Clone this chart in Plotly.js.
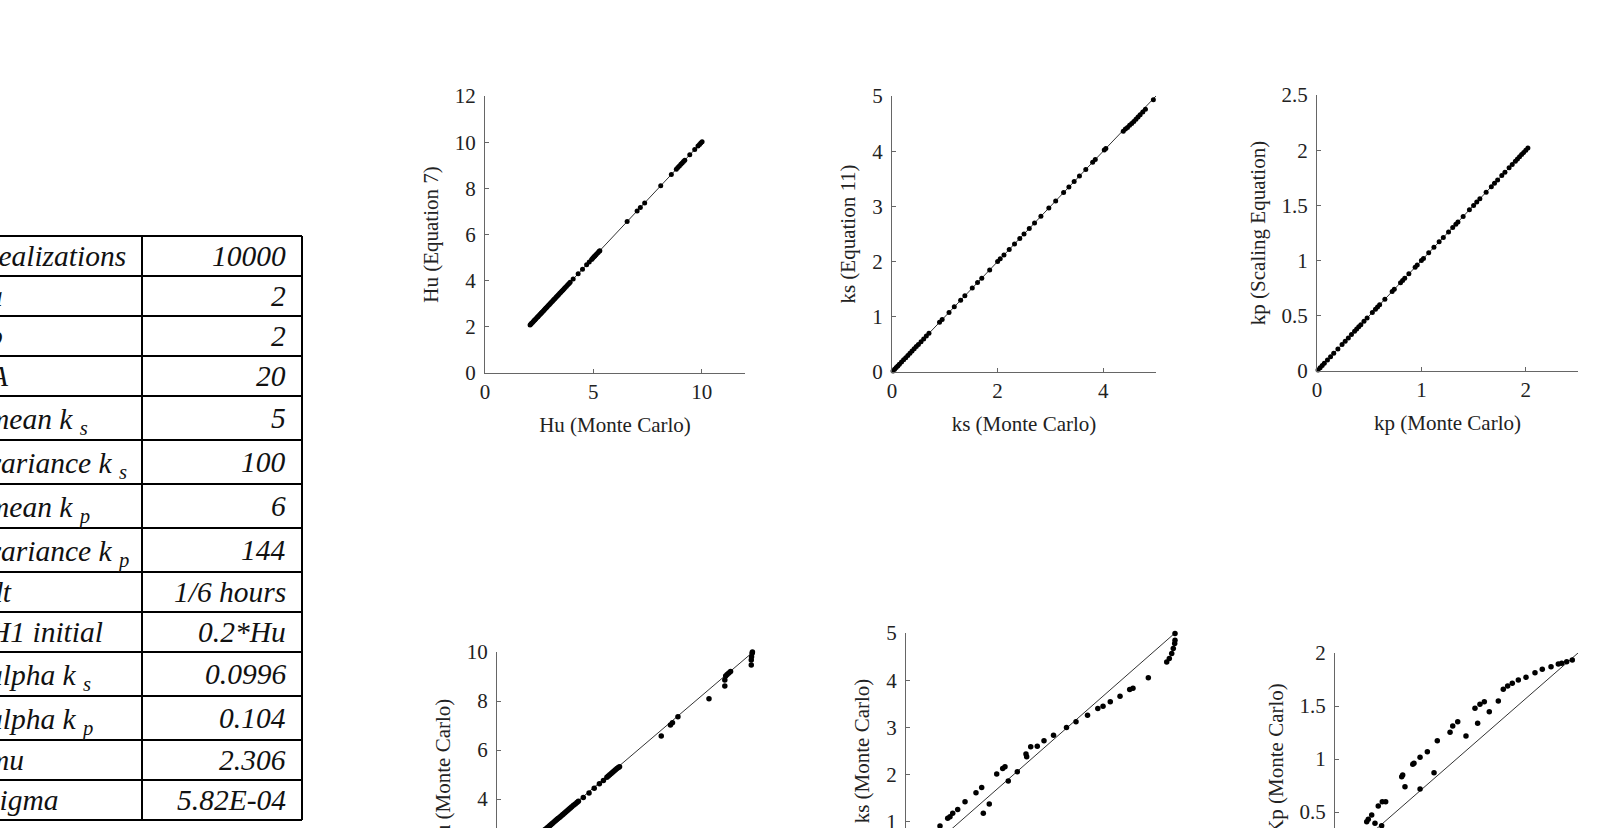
<!DOCTYPE html>
<html><head><meta charset="utf-8">
<script src="https://cdn.plot.ly/plotly-3.0.1.min.js"></script>
<style>
html,body{margin:0;padding:0;overflow:hidden;background:#fff;width:1600px;height:828px}
#chart{width:1600px;height:1000px}
</style>
</head><body><div id="chart"></div>
<script>
// ---------- table data ----------
const paramNames = ["realizations","a","b","A","mean k <sub>s</sub>","variance k <sub>s</sub>","mean k <sub>p</sub>","variance k <sub>p</sub>","dt","H1 initial","alpha k <sub>s</sub>","alpha k <sub>p</sub>","mu","sigma"];
const paramValues = ["10000","2","2","20","5","100","6","144","1/6 hours","0.2*Hu","0.0996","0.104","2.306","5.82E-04"];

// ---------- top-left: Hu (Monte Carlo) vs Hu (Equation 7) ----------
const huMC  = [2.08,2.12,2.15,2.2,2.24,2.28,2.31,2.35,2.4,2.44,2.47,2.52,2.56,2.6,2.63,2.68,2.72,2.76,2.8,2.84,2.88,2.93,2.97,3.01,3.05,3.1,3.14,3.18,3.22,3.27,3.31,3.36,3.4,3.45,3.5,3.55,3.6,3.65,3.7,3.76,3.82,3.88,3.93,4.07,4.3,4.5,4.69,4.81,4.92,4.97,5.02,5.07,5.12,5.17,5.22,5.27,5.3,6.56,7.02,7.17,7.37,8.11,8.6,8.83,8.9,8.97,9.04,9.1,9.16,9.22,9.45,9.68,9.83,9.9,9.96,10.02];
const huEq7 = [2.08,2.12,2.15,2.2,2.24,2.28,2.31,2.35,2.4,2.44,2.47,2.52,2.56,2.6,2.63,2.68,2.72,2.76,2.8,2.84,2.88,2.93,2.97,3.01,3.05,3.1,3.14,3.18,3.22,3.27,3.31,3.36,3.4,3.45,3.5,3.55,3.6,3.65,3.7,3.76,3.82,3.88,3.93,4.07,4.3,4.5,4.69,4.81,4.92,4.97,5.02,5.07,5.12,5.17,5.22,5.27,5.3,6.56,7.02,7.17,7.37,8.11,8.6,8.83,8.9,8.97,9.04,9.1,9.16,9.22,9.45,9.68,9.83,9.9,9.96,10.02];
const huLine = [2, 10];

// ---------- top-middle: ks ----------
const ksMC   = [0.02,0.05,0.08,0.11,0.14,0.18,0.22,0.26,0.3,0.34,0.38,0.42,0.46,0.5,0.55,0.6,0.65,0.7,0.9,0.95,1.08,1.18,1.3,1.38,1.52,1.62,1.7,1.85,2.0,2.05,2.12,2.22,2.32,2.42,2.5,2.6,2.7,2.82,2.97,3.1,3.25,3.35,3.45,3.55,3.67,3.8,3.85,4.02,4.05,4.38,4.42,4.46,4.5,4.54,4.58,4.62,4.66,4.7,4.75,4.8,4.95];
const ksEq11 = [0.02,0.05,0.08,0.11,0.14,0.18,0.22,0.26,0.3,0.34,0.38,0.42,0.46,0.5,0.55,0.6,0.65,0.7,0.9,0.95,1.08,1.18,1.3,1.38,1.52,1.62,1.7,1.85,2.0,2.05,2.12,2.22,2.32,2.42,2.5,2.6,2.7,2.82,2.97,3.1,3.25,3.35,3.45,3.55,3.67,3.8,3.85,4.02,4.05,4.36,4.4,4.43,4.47,4.5,4.54,4.58,4.62,4.66,4.71,4.76,4.93];
const ksLine = [0, 5];

// ---------- top-right: kp ----------
const kpMC   = [0.01,0.03,0.05,0.07,0.1,0.13,0.16,0.2,0.24,0.27,0.3,0.33,0.36,0.38,0.4,0.42,0.45,0.48,0.53,0.56,0.58,0.6,0.65,0.72,0.74,0.8,0.82,0.84,0.88,0.94,0.96,1.0,1.02,1.07,1.12,1.17,1.21,1.26,1.3,1.33,1.35,1.4,1.46,1.5,1.53,1.56,1.62,1.67,1.7,1.73,1.77,1.8,1.84,1.87,1.9,1.92,1.94,1.96,1.98,2.0,2.02];
const kpScal = [0.01,0.03,0.05,0.07,0.1,0.13,0.16,0.2,0.24,0.27,0.3,0.33,0.36,0.38,0.4,0.42,0.45,0.48,0.53,0.56,0.58,0.6,0.65,0.72,0.74,0.8,0.82,0.84,0.88,0.94,0.96,1.0,1.02,1.07,1.12,1.17,1.21,1.26,1.3,1.33,1.35,1.4,1.46,1.5,1.53,1.56,1.62,1.67,1.7,1.73,1.77,1.8,1.84,1.87,1.9,1.92,1.94,1.96,1.98,2.0,2.02];
const kpLine = [0, 2.02];

// ---------- bottom-left: Hu (Monte Carlo) ----------
const huB_x = [2.08,2.12,2.15,2.2,2.24,2.28,2.31,2.35,2.4,2.44,2.47,2.52,2.56,2.6,2.63,2.68,2.72,2.76,2.8,2.84,2.88,2.93,2.97,3.01,3.05,3.1,3.14,3.18,3.22,3.27,3.31,3.36,3.4,3.45,3.5,3.55,3.6,3.65,3.7,3.76,3.82,3.88,3.93,4.1,4.3,4.48,4.66,4.8,4.92,4.97,5.02,5.07,5.12,5.17,5.22,5.27,5.32,5.36,6.81,7.13,7.2,7.39,8.47,9.02,9.02,9.05,9.1,9.16,9.22,9.94,9.94,9.95,9.97,9.98];
const huB_y = [2.06,2.1,2.13,2.18,2.22,2.26,2.29,2.33,2.38,2.42,2.45,2.5,2.54,2.58,2.61,2.66,2.7,2.74,2.78,2.82,2.86,2.91,2.95,2.99,3.03,3.08,3.12,3.16,3.2,3.25,3.29,3.34,3.38,3.43,3.48,3.53,3.58,3.63,3.68,3.74,3.8,3.86,3.91,4.06,4.25,4.44,4.62,4.76,4.89,4.94,4.99,5.04,5.09,5.14,5.19,5.24,5.29,5.32,6.57,7.02,7.11,7.36,8.09,8.61,8.86,9.02,9.08,9.14,9.2,9.47,9.67,9.81,9.95,10.0];
const huBLine = [2, 10];
const huBTicks = [4, 6, 8, 10];

// ---------- bottom-middle: ks (Monte Carlo) ----------
const ksB_x = [0.45,0.55,0.632,0.775,0.818,0.868,0.961,1.097,1.301,1.407,1.437,1.548,1.686,1.797,1.84,1.901,2.069,2.23,2.243,2.318,2.44,2.565,2.742,2.983,3.16,3.374,3.565,3.662,3.797,3.978,4.158,4.219,4.504,4.846,4.894,4.939,4.968,4.994,5.0,5.0];
const ksB_y = [0.7,0.8,0.91,1.073,1.107,1.179,1.263,1.424,1.615,1.729,1.179,1.376,2.011,2.131,2.165,1.862,2.059,2.434,2.377,2.588,2.603,2.715,2.836,2.999,3.122,3.259,3.401,3.45,3.541,3.661,3.803,3.831,4.053,4.387,4.459,4.565,4.671,4.777,4.847,4.988];
const ksBLine = [0, 5];
const ksBTicks = [1, 2, 3, 4, 5];

// ---------- bottom-right: Kp (Monte Carlo) ----------
const kpB_x = [0.261,0.274,0.302,0.329,0.384,0.356,0.389,0.417,0.549,0.557,0.576,0.64,0.65,0.7,0.7,0.76,0.815,0.842,0.947,0.969,1.01,1.078,1.152,1.174,1.193,1.229,1.27,1.344,1.385,1.421,1.459,1.509,1.572,1.646,1.706,1.778,1.838,1.866,1.907,1.953,2.011];
const kpB_y = [0.408,0.431,0.472,0.393,0.371,0.557,0.597,0.597,0.833,0.849,0.739,0.95,0.959,1.016,0.717,1.069,0.871,1.173,1.252,1.311,1.352,1.217,1.478,1.337,1.516,1.541,1.446,1.547,1.658,1.689,1.714,1.745,1.771,1.814,1.846,1.871,1.896,1.903,1.918,1.934,1.94];
const kpBLine = [0, 2];
const kpBTicks = [0.5, 1, 1.5, 2];

// ---------- build ----------
const W = 1600, H = 1000;
const px = v => v / W;
const py = v => 1 - v / H;
const SERIF = "Liberation Serif, Times New Roman, serif";

function pts(x, y, ax, sz) {
  return {type:'scatter', mode:'markers', x:x, y:y, xaxis:'x'+ax, yaxis:'y'+ax,
    marker:{color:'#000', size:sz}, cliponaxis:false, showlegend:false, hoverinfo:'x+y'};
}
function ref(l, ax) {
  return {type:'scatter', mode:'lines', x:l, y:l, xaxis:'x'+ax, yaxis:'y'+ax,
    line:{color:'#333', width:1}, cliponaxis:false, showlegend:false, hoverinfo:'skip'};
}
const traces = [
  ref(huLine,''), pts(huMC, huEq7, '', 5),
  ref(ksLine,'2'), pts(ksMC, ksEq11, '2', 5),
  ref(kpLine,'3'), pts(kpMC, kpScal, '3', 5),
  ref(huBLine,'4'), pts(huB_x, huB_y, '4', 5.5),
  ref(ksBLine,'5'), pts(ksB_x, ksB_y, '5', 5.5),
  ref(kpBLine,'6'), pts(kpB_x, kpB_y, '6', 5.5)
];

function axis(isX, dom, range, dtick, title, anchor, labels, tickvals) {
  const a = {domain:dom, range:range, anchor:anchor,
    showgrid:false, zeroline:false, showline:true, linecolor:'#666', linewidth:1,
    ticks:'inside', ticklen:4, tickcolor:'#666', ticklabelstandoff: isX ? 0 : 4,
    showticklabels: labels !== false,
    tickfont:{family:SERIF, size:21, color:'#222'}, fixedrange:true};
  if (tickvals) { a.tickmode = 'array'; a.tickvals = tickvals; }
  else { a.dtick = dtick; a.tick0 = 0; }
  if (title) a.title = {text:title, font:{family:SERIF, size:21, color:'#222'}, standoff: isX ? 14 : 10};
  return a;
}

const layout = {
  width:W, height:H, margin:{l:0, r:0, t:0, b:0},
  paper_bgcolor:'#fff', plot_bgcolor:'rgba(0,0,0,0)', showlegend:false,
  xaxis:  axis(true,  [px(485), px(745)],  [0,12],  5, 'Hu (Monte Carlo)', 'y'),
  yaxis:  axis(false, [py(373), py(96)],   [0,12],  2, 'Hu (Equation 7)', 'x'),
  xaxis2: axis(true,  [px(892), px(1156)], [0,5],   2, 'ks (Monte Carlo)', 'y2'),
  yaxis2: axis(false, [py(372), py(96)],   [0,5],   1, 'ks (Equation 11)', 'x2'),
  xaxis3: axis(true,  [px(1317),px(1578)], [0,2.5], 1, 'kp (Monte Carlo)', 'y3'),
  yaxis3: axis(false, [py(371), py(95)],   [0,2.5], 0.5, 'kp (Scaling Equation)', 'x3'),
  xaxis4: axis(true,  [px(497), px(753)],  [1.1,10], 2, null, 'y4', false),
  yaxis4: axis(false, [py(897), py(652)],  [0,10],  2, 'Hu (Monte Carlo)', 'x4', true, huBTicks),
  xaxis5: axis(true,  [px(906), px(1175)], [0,5],   1, null, 'y5', false),
  yaxis5: axis(false, [py(869), py(633)],  [0,5],   1, 'ks (Monte Carlo)', 'x5', true, ksBTicks),
  xaxis6: axis(true,  [px(1335),px(1578)], [0,2],   0.5, null, 'y6', false),
  yaxis6: axis(false, [py(865), py(653)],  [0,2],   0.5, 'Kp (Monte Carlo)', 'x6', true, kpBTicks),
  shapes:[], annotations:[]
};

// table: rows with a subscript are a little taller
const tableTop = 236, tableRight = 302, tableDiv = 142, textLeft = -14, valueRight = 288;
let yCur = tableTop;
const lineStyle = {color:'#000', width:2};
layout.shapes.push({type:'line', xref:'paper', yref:'paper', x0:px(-5), x1:px(tableRight), y0:py(yCur), y1:py(yCur), line:lineStyle});
paramNames.forEach((name, i) => {
  const sub = name.indexOf('<sub>') >= 0;
  const h = sub ? 44 : 40;
  const mid = yCur + (sub ? 25 : h/2);
  const tfont = {family:SERIF, size:29.5, color:'#111', style:'italic'};
  layout.annotations.push({xref:'paper', yref:'paper', x:px(textLeft), y:py(mid), xanchor:'left', yanchor:'middle',
    text:name, showarrow:false, font:tfont});
  layout.annotations.push({xref:'paper', yref:'paper', x:px(valueRight), y:py(yCur + h/2), xanchor:'right', yanchor:'middle',
    text:paramValues[i], showarrow:false, font:tfont});
  yCur += h;
  layout.shapes.push({type:'line', xref:'paper', yref:'paper', x0:px(-5), x1:px(tableRight), y0:py(yCur), y1:py(yCur), line:lineStyle});
});
layout.shapes.push({type:'line', xref:'paper', yref:'paper', x0:px(tableDiv), x1:px(tableDiv), y0:py(tableTop), y1:py(yCur), line:lineStyle});
layout.shapes.push({type:'line', xref:'paper', yref:'paper', x0:px(tableRight), x1:px(tableRight), y0:py(tableTop), y1:py(yCur), line:lineStyle});

Plotly.newPlot('chart', traces, layout, {displayModeBar:false, staticPlot:true});
</script></body></html>
